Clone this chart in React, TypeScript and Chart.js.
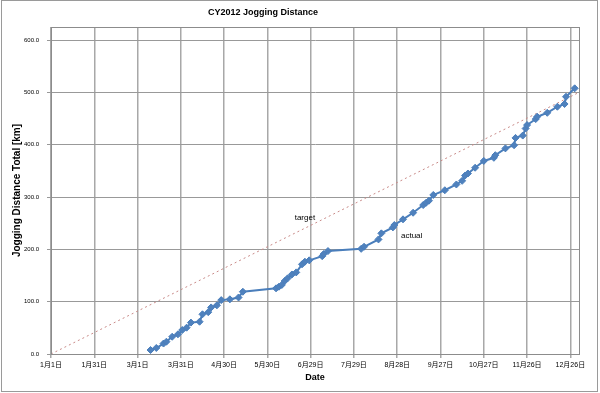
import { useEffect, useRef } from "react";
import { Chart, registerables } from "chart.js";

Chart.register(...registerables);

// Day index counted from 2012-01-01 (day 0)
const actualDays = [
  69, 73, 78, 80, 84, 88, 91, 94, 97, 103, 105, 109, 111, 115, 118, 124, 130, 133,
  156, 158, 160, 162, 164, 167, 170, 174, 176, 179, 188, 189, 192,
  215, 217, 227, 229, 237, 238, 244, 251, 258, 260, 262, 265, 273, 281, 285, 287, 289,
  294, 300, 307, 308, 315, 321, 322, 327, 329, 330, 336, 337, 344, 351, 356, 357, 363,
];
const actualKm = [
  7.6, 11.5, 20, 23.5, 33, 37.6, 45.9, 50.3, 60, 61.7, 75.9, 80, 89, 93, 103, 104.5, 108, 119,
  125.5, 128.6, 132, 139.5, 144.6, 152, 156, 171.4, 176.4, 179, 187, 191, 196.8,
  201, 205, 219, 230.6, 242, 246.5, 257.4, 270, 284.7, 289, 293, 304, 313, 324, 331, 341, 345,
  356, 369, 375, 380, 393, 399, 413, 417.5, 431, 437.6, 449, 453.5, 461, 472.6, 477.8, 491.7, 507.8,
];
const targetDays = [0, 366];
const targetKm = [0, 500];

const xTickDays = [0, 30, 60, 90, 120, 150, 180, 210, 240, 270, 300, 330, 360];
const yTickValues = [0, 100, 200, 300, 400, 500, 600];
const monthLengths2012 = [31, 29, 31, 30, 31, 30, 31, 31, 30, 31, 30, 31];

const chartTitle = "CY2012 Jogging Distance";
const xTitle = "Date";
const yTitle = "Jogging Distance Total [km]";
const seriesLabels = ["actual", "target"];
// label anchor positions in data coordinates (day, km)
const labelDays = [250, 176];
const labelKm = [225, 261];

function dayLabel(d: number): string {
  let m = 0;
  let day = d;
  while (m < 11 && day >= monthLengths2012[m]) {
    day -= monthLengths2012[m];
    m++;
  }
  return `${m + 1}月${day + 1}日`;
}

const FONT = "'Liberation Sans', 'Noto Sans CJK JP', Arial, sans-serif";

const decorPlugin = {
  id: "decor",
  afterDraw(chart: any) {
    const { ctx, chartArea, scales } = chart;
    ctx.save();
    // plot border
    ctx.strokeStyle = "#8c8c8c";
    ctx.lineWidth = 1;
    ctx.strokeRect(
      Math.round(chartArea.left) + 0.5,
      Math.round(chartArea.top) + 0.5,
      Math.round(chartArea.right - chartArea.left),
      Math.round(chartArea.bottom - chartArea.top)
    );
    // outer chart border
    ctx.strokeStyle = "#9a9a9a";
    ctx.strokeRect(1.5, 0.5, 596, 391);
    // title
    ctx.fillStyle = "#000";
    ctx.textAlign = "center";
    ctx.textBaseline = "middle";
    ctx.font = `bold 9px ${FONT}`;
    ctx.fillText(chartTitle, 263, 13);
    // x title
    ctx.font = `bold 9px ${FONT}`;
    ctx.fillText(xTitle, (chartArea.left + chartArea.right) / 2, 378);
    // y title
    ctx.save();
    ctx.font = `bold 10px ${FONT}`;
    ctx.translate(17, (chartArea.top + chartArea.bottom) / 2);
    ctx.rotate(-Math.PI / 2);
    ctx.fillText(yTitle, 0, 0);
    ctx.restore();
    // series labels
    ctx.font = `8px ${FONT}`;
    for (let i = 0; i < seriesLabels.length; i++) {
      const px = scales.x.getPixelForValue(labelDays[i]);
      const py = scales.y.getPixelForValue(labelKm[i]);
      ctx.fillText(seriesLabels[i], px, py);
    }
    ctx.restore();
  },
};

export default function App() {
  const ref = useRef<HTMLCanvasElement | null>(null);
  useEffect(() => {
    document.body.style.margin = "0";
    const canvas = ref.current;
    if (!canvas) return;
    const chart = new Chart(canvas, {
      type: "line",
      data: {
        datasets: [
          {
            label: "actual",
            data: actualDays.map((d, i) => ({ x: d, y: actualKm[i] })),
            borderColor: "#4A7EBB",
            backgroundColor: "#4F81BD",
            borderWidth: 2,
            pointStyle: "rectRot",
            pointRadius: 3.5,
            pointBorderWidth: 1,
            pointBorderColor: "#4A7EBB",
            pointBackgroundColor: "#4F81BD",
            tension: 0,
            order: 0,
          },
          {
            label: "target",
            data: targetDays.map((d, i) => ({ x: d, y: targetKm[i] })),
            borderColor: "#C98A88",
            borderWidth: 1,
            borderDash: [2, 3],
            pointRadius: 0,
            fill: false,
            tension: 0,
            order: 1,
          },
        ],
      },
      options: {
        animation: false,
        responsive: false,
        layout: { padding: { top: 27, right: 21, left: 0, bottom: 0 } },
        plugins: {
          legend: { display: false },
          tooltip: { enabled: false },
          title: { display: false },
        },
        scales: {
          x: {
            type: "linear",
            min: 0,
            max: 366,
            afterBuildTicks: (s: any) => {
              s.ticks = xTickDays.map((v) => ({ value: v }));
            },
            afterFit: (s: any) => {
              s.height = 39;
            },
            ticks: {
              autoSkip: false,
              maxRotation: 0,
              minRotation: 0,
              padding: 3,
              color: "#000",
              font: { family: FONT, size: 7 },
              callback: (v: any) => dayLabel(Number(v)),
            },
            grid: { color: "#a8a8a8", lineWidth: 1.5, tickLength: 4 },
            border: { display: true, color: "#8c8c8c" },
          },
          y: {
            type: "linear",
            min: 0,
            max: 625,
            afterBuildTicks: (s: any) => {
              s.ticks = yTickValues.map((v) => ({ value: v }));
            },
            afterFit: (s: any) => {
              s.width = 51;
            },
            ticks: {
              padding: 8,
              color: "#000",
              font: { family: FONT, size: 6 },
              callback: (v: any) => Number(v).toFixed(1),
            },
            grid: { color: "#999999", lineWidth: 1, tickLength: 4 },
            border: { display: true, color: "#8c8c8c" },
          },
        },
      },
      plugins: [decorPlugin],
    });
    return () => chart.destroy();
  }, []);
  return (
    <canvas
      ref={ref}
      width={600}
      height={393}
      style={{ display: "block", width: 600, height: 393 }}
    />
  );
}
